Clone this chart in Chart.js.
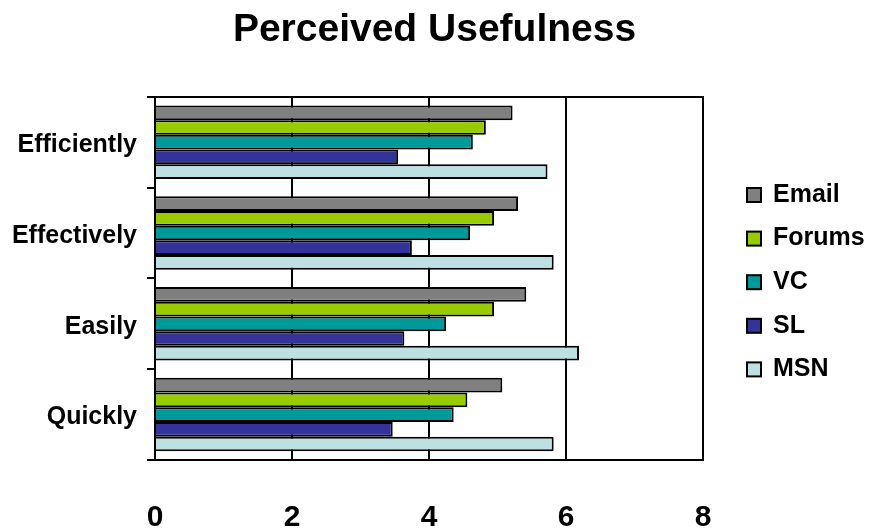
<!DOCTYPE html>
<html>
<head>
<meta charset="utf-8">
<title>Perceived Usefulness</title>
<script src="https://cdn.jsdelivr.net/npm/chart.js@4/dist/chart.umd.min.js"></script>
<style>
  html, body { margin: 0; padding: 0; background: #ffffff; }
  #wrap { width: 869px; height: 529px; }
</style>
</head>
<body>
<div id="wrap"><canvas id="chart" width="869" height="529"></canvas></div>
<script>
// Categories (top to bottom) and mean ratings per tool
const categories = ['Efficiently', 'Effectively', 'Easily', 'Quickly'];
const seriesNames = ['Email', 'Forums', 'VC', 'SL', 'MSN'];
const emailValues  = [5.22, 5.30, 5.42, 5.07];
const forumsValues = [4.83, 4.95, 4.95, 4.56];
const vcValues     = [4.64, 4.60, 4.25, 4.36];
const slValues     = [3.55, 3.75, 3.64, 3.47];
const msnValues    = [5.73, 5.82, 6.19, 5.82];
const xTicks = [0, 2, 4, 6, 8];

const seriesColors = ['#808080', '#99cc00', '#009999', '#333399', '#bde1e3'];
const seriesValues = [emailValues, forumsValues, vcValues, slValues, msnValues];

const FONT = "'Liberation Sans', Arial, Helvetica, sans-serif";
Chart.defaults.font.family = FONT;
Chart.defaults.color = '#000000';

// Legend drawn at the right of the plot, one row per dataset
const sideLegend = {
  id: 'sideLegend',
  afterDraw(chart) {
    const ctx = chart.ctx;
    const firstY = 194, step = 43.6, boxX = 747, box = 14, textX = 773;
    ctx.save();
    ctx.font = 'bold 25px ' + FONT;
    ctx.textBaseline = 'middle';
    ctx.textAlign = 'left';
    chart.data.datasets.forEach((ds, i) => {
      const cy = firstY + i * step;
      ctx.fillStyle = ds.backgroundColor;
      ctx.fillRect(boxX, cy - box / 2 + 1, box, box);
      ctx.lineWidth = 2;
      ctx.strokeStyle = '#000000';
      ctx.strokeRect(boxX, cy - box / 2 + 1, box, box);
      ctx.fillStyle = '#000000';
      ctx.fillText(ds.label, textX, cy + 1);
    });
    ctx.restore();
  }
};

new Chart(document.getElementById('chart'), {
  type: 'bar',
  data: {
    labels: categories,
    datasets: seriesNames.map((name, i) => ({
      label: name,
      data: seriesValues[i],
      backgroundColor: seriesColors[i],
      borderColor: '#000000',
      borderWidth: 2,
      borderSkipped: 'start',
      categoryPercentage: 0.81,
      barPercentage: 1.0
    }))
  },
  options: {
    indexAxis: 'y',
    responsive: false,
    animation: false,
    devicePixelRatio: 1,
    layout: { padding: 0 },
    plugins: {
      legend: { display: false },
      tooltip: { enabled: false },
      title: {
        display: true,
        text: 'Perceived Usefulness',
        color: '#000000',
        font: { size: 39, weight: 'bold', family: FONT },
        padding: { top: 7, bottom: 43 }
      }
    },
    scales: {
      x: {
        type: 'linear',
        position: 'bottom',
        min: 0,
        max: 8,
        afterBuildTicks(scale) { scale.ticks = xTicks.map(v => ({ value: v })); },
        afterFit(scale) { scale.height = 69; },
        ticks: {
          color: '#000000',
          font: { size: 30, weight: 'bold', family: FONT },
          padding: 40,
          maxRotation: 0
        },
        grid: { color: '#000000', lineWidth: 2, drawTicks: false },
        border: { display: true, color: '#000000', width: 2 }
      },
      xTop: {
        type: 'linear',
        position: 'top',
        min: 0,
        max: 8,
        afterFit(scale) { scale.height = 0; },
        ticks: { display: false },
        grid: { display: false, drawTicks: false },
        border: { display: true, color: '#000000', width: 2 }
      },
      y: {
        type: 'category',
        position: 'left',
        afterFit(scale) { scale.width = 155; },
        ticks: {
          color: '#000000',
          font: { size: 25, weight: 'bold', family: FONT },
          padding: 10,
          labelOffset: 3
        },
        grid: {
          offset: true,
          drawOnChartArea: false,
          drawTicks: true,
          tickLength: 8,
          color: '#000000',
          lineWidth: 2
        },
        border: { display: true, color: '#000000', width: 2 }
      },
      // empty strip on the right that holds the legend
      yRight: {
        type: 'linear',
        axis: 'y',
        position: 'right',
        afterFit(scale) { scale.width = 166; },
        ticks: { display: false },
        grid: { display: false, drawTicks: false },
        border: { display: false }
      }
    }
  },
  plugins: [sideLegend]
});
</script>
</body>
</html>
